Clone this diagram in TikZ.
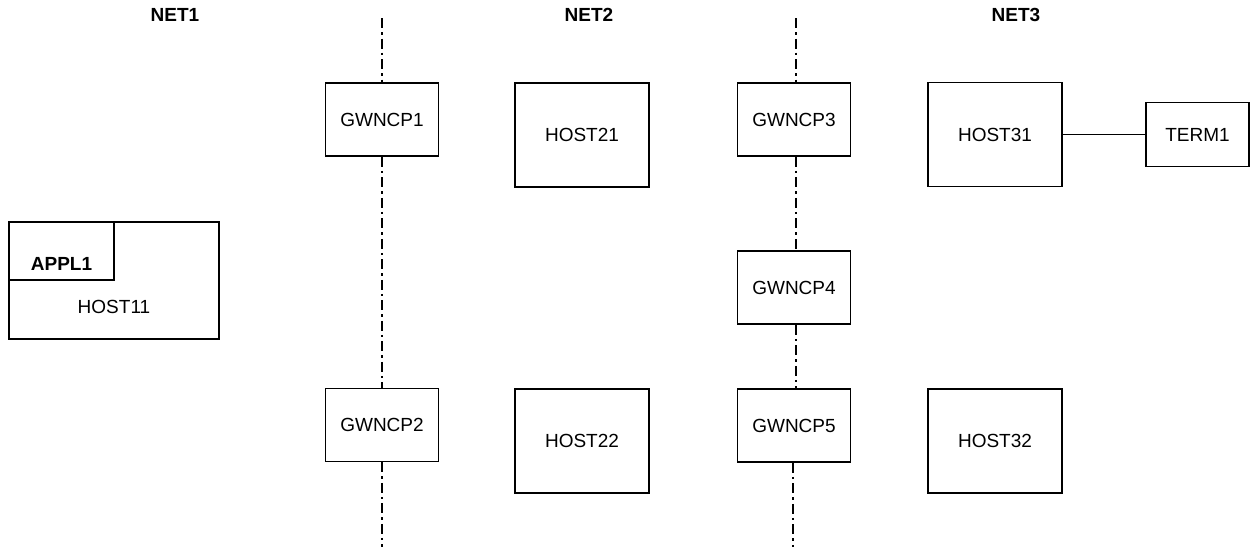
\documentclass[tikz,border=0pt]{standalone}
\usepackage{fontspec}
\setmainfont{Liberation Sans}
\begin{document}
\begin{tikzpicture}[x=1pt,y=-1pt,
  box/.style={draw,line width=1.9pt,inner sep=0pt,font=\fontsize{19}{22}\selectfont},
  gwbox/.style={box,minimum width=113pt,minimum height=73pt},
  hostbox/.style={box,minimum width=134pt,minimum height=104pt},
  txt/.style={inner sep=0pt,font=\fontsize{19}{22}\selectfont},
  netlabel/.style={inner sep=0pt,font=\bfseries\fontsize{19}{22}\selectfont},
  bus/.style={line width=1.7pt,dash pattern=on 10pt off 4pt on 2.5pt off 4pt},
  wire/.style={line width=1.9pt}]
\useasboundingbox (0,0) rectangle (1251,547);

% net labels
\node[netlabel] (net1) at (175,15) {NET1};
\node[netlabel] (net2) at (589,15) {NET2};
\node[netlabel] (net3) at (1016,15) {NET3};

% HOST11 with APPL1
\node[box,minimum width=210pt,minimum height=117pt] (host11) at (114,280.5) {};
\node[box,minimum width=105pt,minimum height=58pt,anchor=north west] (appl1) at (host11.north west) {};
\node[netlabel] (appl1t) at (61.5,264) {APPL1};
\node[txt] (host11t) at (114,307) {HOST11};

% gateways
\node[gwbox] (gw1) at (382,119.5) {GWNCP1};
\node[gwbox] (gw2) at (382,425) {GWNCP2};
\node[gwbox] (gw3) at (794,119.5) {GWNCP3};
\node[gwbox] (gw4) at (794,287.5) {GWNCP4};
\node[gwbox] (gw5) at (794,425.5) {GWNCP5};

% hosts
\node[hostbox] (host21) at (582,135) {HOST21};
\node[hostbox] (host22) at (582,441) {HOST22};
\node[hostbox] (host31) at (995,134.5) {HOST31};
\node[hostbox] (host32) at (995,441) {HOST32};

% terminal
\node[box,minimum width=103pt,minimum height=64pt] (term1) at (1197.5,134.5) {TERM1};
\draw[wire] (host31.east) -- (term1.west);

% network boundaries
\coordinate (t1) at (382,18);
\coordinate (b1) at (382,547);
\draw[bus] (t1) -- (gw1.north);
\draw[bus] (gw1.south) -- (gw2.north);
\draw[bus] (gw2.south) -- (b1);

\coordinate (t2) at (796,18);
\coordinate (b2) at (793,547);
\draw[bus] (t2) -- (t2 |- gw3.north);
\draw[bus] (t2 |- gw3.south) -- (t2 |- gw4.north);
\draw[bus] (t2 |- gw4.south) -- (t2 |- gw5.north);
\draw[bus] (b2 |- gw5.south) -- (b2);
\end{tikzpicture}
\end{document}
